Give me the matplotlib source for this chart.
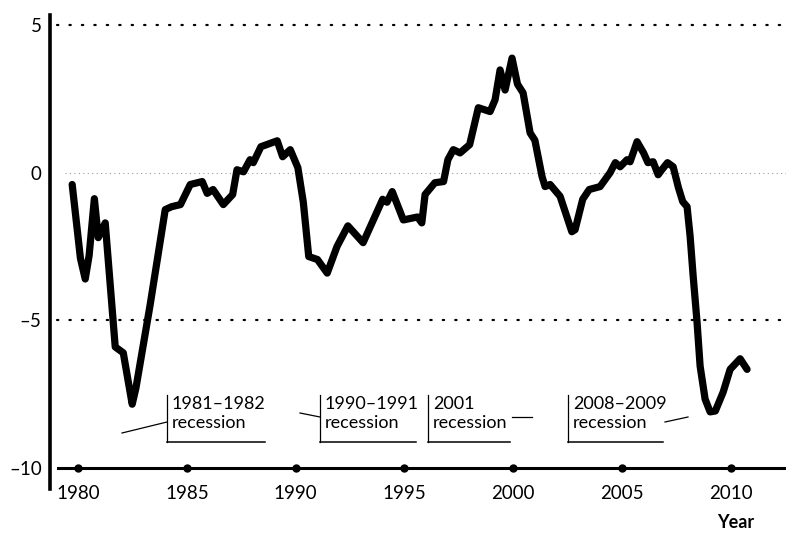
import matplotlib
matplotlib.use('Agg')
import matplotlib.pyplot as plt
import numpy as np

plt.rcParams['font.family'] = ['Lato', 'DejaVu Sans']

# series (year, value)
years = [1979.72, 1980.1, 1980.32, 1980.5, 1980.74, 1980.92, 1981.24, 1981.7, 1982.07, 1982.48,
         1982.65, 1983.3, 1984.0, 1984.3, 1984.7, 1985.15, 1985.7, 1985.93, 1986.2, 1986.67,
         1987.1, 1987.3, 1987.6, 1987.9, 1988.05, 1988.4, 1989.15, 1989.4, 1989.75,
         1990.1, 1990.35, 1990.6, 1991.0, 1991.45, 1991.9, 1992.4, 1993.1, 1994.0,
         1994.2, 1994.44, 1994.95, 1995.6, 1995.8, 1995.95, 1996.4, 1996.8, 1997.0,
         1997.25, 1997.56, 1998.0, 1998.4, 1998.94, 1999.17, 1999.4, 1999.63, 1999.95,
         2000.2, 2000.46, 2000.78, 2001.0, 2001.33, 2001.47, 2001.7, 2002.16, 2002.7,
         2002.85, 2003.2, 2003.5, 2004.0, 2004.46, 2004.7, 2004.92, 2005.24, 2005.38,
         2005.7, 2006.0, 2006.2, 2006.44, 2006.67, 2006.84, 2007.1, 2007.36, 2007.6,
         2007.8, 2008.0, 2008.14, 2008.28, 2008.46, 2008.6, 2008.83, 2009.06, 2009.3,
         2009.66, 2009.98, 2010.44, 2010.76]
values = [-0.4, -2.9, -3.6, -2.8, -0.88, -2.2, -1.7, -5.9, -6.1, -7.84,
          -7.3, -4.5, -1.25, -1.15, -1.08, -0.4, -0.3, -0.7, -0.57, -1.08,
          -0.74, 0.1, 0.03, 0.44, 0.34, 0.88, 1.08, 0.54, 0.78,
          0.17, -1.0, -2.84, -2.94, -3.4, -2.5, -1.8, -2.37, -0.9,
          -1.0, -0.64, -1.6, -1.5, -1.7, -0.74, -0.34, -0.3, 0.44,
          0.78, 0.67, 0.95, 2.2, 2.07, 2.47, 3.48, 2.8, 3.88,
          3.0, 2.7, 1.35, 1.1, -0.13, -0.47, -0.4, -0.8, -2.0,
          -1.93, -0.9, -0.57, -0.47, 0.0, 0.34, 0.2, 0.44, 0.37,
          1.05, 0.67, 0.34, 0.37, -0.07, 0.1, 0.34, 0.2, -0.5,
          -0.98, -1.15, -2.15, -3.5, -5.07, -6.55, -7.67, -8.1, -8.07,
          -7.43, -6.66, -6.3, -6.66]

xticks = [1980, 1985, 1990, 1995, 2000, 2005, 2010]
yticks = [5, 0, -5, -10]
ytick_labels = ['5', '0', '\u20135', '\u201310']

recession_labels = ['1981\u20131982\nrecession', '1990\u20131991\nrecession',
                    '2001\nrecession', '2008\u20132009\nrecession']

fig = plt.figure(figsize=(7.86, 5.34), dpi=100)
ax = fig.add_axes([50/786, 66/534, 736/786, 453/534])

ax.plot(years, values, color='black', lw=5.2, solid_joinstyle='round', solid_capstyle='round', zorder=3)

# dotted reference lines
for yv in [5, -5]:
    ax.axhline(yv, xmin=0.01, color='black', lw=1.6, ls=(0, (0.6, 5)), dash_capstyle='round', zorder=1)
ax.axhline(0, xmin=0.02, color='#999999', lw=0.8, ls=(0, (1, 3)), zorder=1)

ax.set_xlim(1978.7, 2012.55)
ax.set_ylim(-10, 5.34)

ax.set_xticks(xticks)
ax.set_xticklabels([str(t) for t in xticks])
ax.set_yticks(yticks)
ax.set_yticklabels(ytick_labels)
ax.tick_params(axis='x', length=0, pad=12, labelsize=13.5)
ax.tick_params(axis='y', length=0, pad=6, labelsize=13.5)

ax.spines['top'].set_visible(False)
ax.spines['right'].set_visible(False)
ax.spines['left'].set_linewidth(2.6)
ax.spines['bottom'].set_linewidth(2.2)
ax.spines['left'].set_bounds(-10.7, 5.34)
ax.spines['bottom'].set_bounds(1979.05, 2012.55)

# tick dots on the axis
ax.plot(xticks, [-10]*len(xticks), 'o', color='black', ms=5, clip_on=False, zorder=4)

# recession boxes: (left x px, right x px, leader from, leader to) in pixels
box_left = [167, 320, 428, 568]
box_right = [265, 416, 510, 663]
leaders = [((122, 433), (167, 422)), ((300, 413), (320, 417)),
           ((512, 417), (532, 417)), ((665, 422), (688, 417))]

H = 534
for lab, bl, br, (p0, p1) in zip(recession_labels, box_left, box_right, leaders):
    fig.add_artist(plt.Line2D([bl/786, bl/786], [(H-395)/H, (H-442)/H], color='black', lw=0.9))
    fig.add_artist(plt.Line2D([bl/786, br/786], [(H-442)/H, (H-442)/H], color='black', lw=1.1))
    fig.add_artist(plt.Line2D([p0[0]/786, p1[0]/786], [(H-p0[1])/H, (H-p1[1])/H], color='black', lw=0.9))
    fig.text((bl+5)/786, (H-396)/H, lab, fontsize=13, va='top', ha='left', linespacing=1.25)

fig.text(736/786, (H-523)/H, 'Year', fontsize=13, fontweight='bold', ha='center', va='center')

fig.savefig('out.png', dpi=100)
